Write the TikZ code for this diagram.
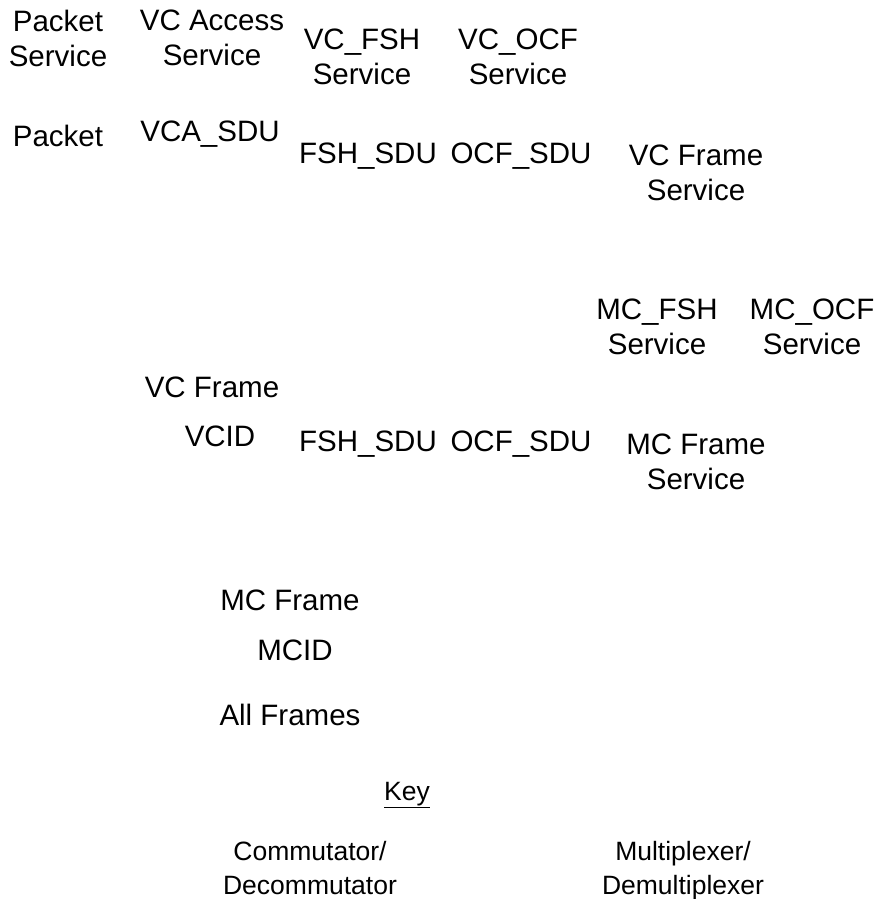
\documentclass[tikz,border=0pt]{standalone}
\usepackage{fontspec}
\setmainfont{Liberation Sans}
\begin{document}
\begin{tikzpicture}[x=1pt,y=-1pt,
  lbl/.style={align=center,inner sep=0pt,font=\fontsize{29.5}{35}\selectfont},
  keylbl/.style={align=center,inner sep=0pt,font=\fontsize{26.5}{34}\selectfont}]
	\useasboundingbox (0,0) rectangle (877,899);

	% upper half: VC services
	\node[lbl] (pktsvc) at (58,38) {Packet\\Service};
	\node[lbl] (vcasvc) at (212,38) {VC Access\\Service};
	\node[lbl] (vcfshsvc) at (362,57) {VC\_FSH\\Service};
	\node[lbl] (vcocfsvc) at (518,57) {VC\_OCF\\Service};
	\node[lbl] (pkt) at (58,136) {Packet};
	\node[lbl] (vcasdu) at (210,134) {VCA\_SDU};
	\node[lbl] (fshsdu) at (368,156) {FSH\_SDU};
	\node[lbl] (ocfsdu) at (521,156) {OCF\_SDU};
	\node[lbl] (vcfrsvc) at (696,173) {VC Frame\\Service};

	% MC services
	\node[lbl] (mcfshsvc) at (657,327) {MC\_FSH\\Service};
	\node[lbl] (mcocfsvc) at (812,327) {MC\_OCF\\Service};
	\node[lbl] (vcfr) at (212,387) {VC Frame};
	\node[lbl] (vcid) at (220,436) {VCID};
	\node[lbl] (mcfshsdu) at (368,444) {FSH\_SDU};
	\node[lbl] (mcocfsdu) at (521,444) {OCF\_SDU};
	\node[lbl] (mcfrsvc) at (696,462) {MC Frame\\Service};

	% lower half
	\node[lbl] (mcfr) at (290,600) {MC Frame};
	\node[lbl] (mcid) at (295,650) {MCID};
	\node[lbl] (allfr) at (290,715) {All Frames};

	% key
	\node[keylbl] (key) at (407,795) {\underline{Key}};
	\node[keylbl] (commut) at (310,868) {Commutator/\\Decommutator};
	\node[keylbl] (muxer) at (683,871) {Multiplexer/\\Demultiplexer};
\end{tikzpicture}
\end{document}
